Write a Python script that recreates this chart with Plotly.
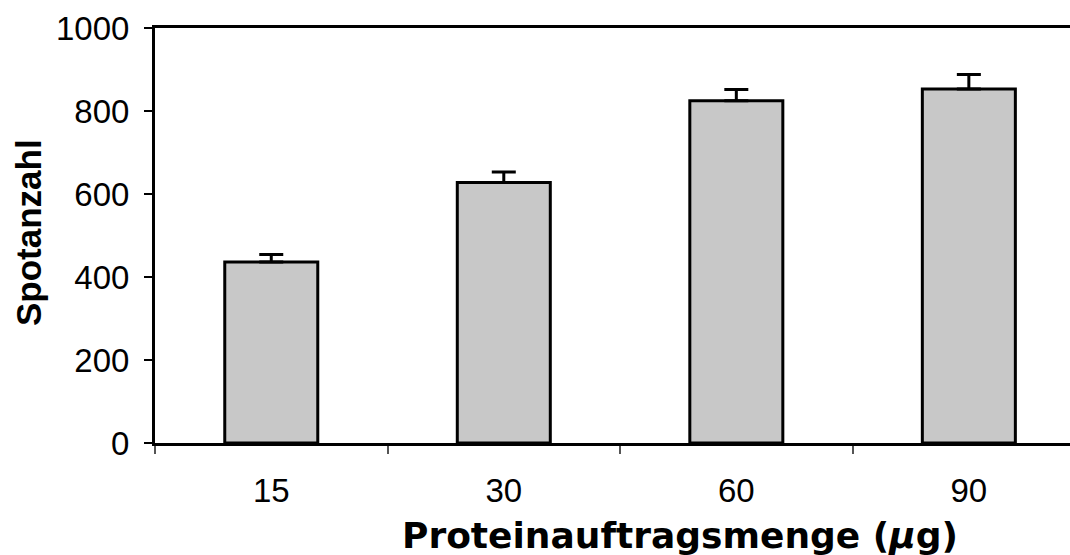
import plotly.graph_objects as go

categories = ["15", "30", "60", "90"]
spot_counts = [436, 628, 825, 853]
spot_err_plus = [18, 25, 27, 35]

x_title = "Proteinauftragsmenge (<i>µ</i>g)"
y_title = "Spotanzahl"
y_ticks = [0, 200, 400, 600, 800, 1000]

fig = go.Figure()
fig.add_trace(go.Bar(
    x=categories,
    y=spot_counts,
    width=0.4,
    marker=dict(color="#c8c8c8", line=dict(color="black", width=3)),
    error_y=dict(type="data", symmetric=False, array=spot_err_plus,
                 arrayminus=[0] * len(spot_err_plus),
                 color="black", thickness=3, width=12),
))

font_family = "Liberation Sans, Arial, sans-serif"

fig.update_layout(
    width=1070, height=555,
    margin=dict(l=155, r=0, t=28, b=112, autoexpand=False),
    paper_bgcolor="white", plot_bgcolor="white",
    showlegend=False,
    font=dict(family=font_family, color="black", size=33),
    xaxis=dict(
        type="category",
        range=[-0.5, 3.435],
        automargin=False,
        showline=True, linecolor="black", linewidth=3, mirror=True,
        ticks="outside", tickson="boundaries", ticklen=8, tickwidth=1.5,
        tickcolor="#555555",
        ticklabelstandoff=16,
        tickfont=dict(size=33),
        showgrid=False, zeroline=False,
    ),
    yaxis=dict(
        range=[0, 1000],
        tickvals=y_ticks,
        automargin=False,
        showline=True, linecolor="black", linewidth=3,
        ticks="outside", ticklen=8, tickwidth=2, tickcolor="black",
        ticklabelstandoff=8,
        tickfont=dict(size=33),
        showgrid=False, zeroline=False,
    ),
    annotations=[
        dict(text="<b>" + x_title + "</b>", xref="paper", yref="paper",
             x=0.574, y=-0.224, xanchor="center", yanchor="middle",
             showarrow=False, font=dict(size=36, family="DejaVu Sans, sans-serif")),
        dict(text="<b>" + y_title + "</b>", xref="paper", yref="paper",
             x=-0.139, y=0.508, xanchor="center", yanchor="middle",
             textangle=-90, showarrow=False, font=dict(size=35, family=font_family)),
    ],
)

fig.write_html(
    "out.html",
    config={"displayModeBar": False},
    post_script="document.body.style.margin='0';document.body.style.overflow='hidden';",
)
